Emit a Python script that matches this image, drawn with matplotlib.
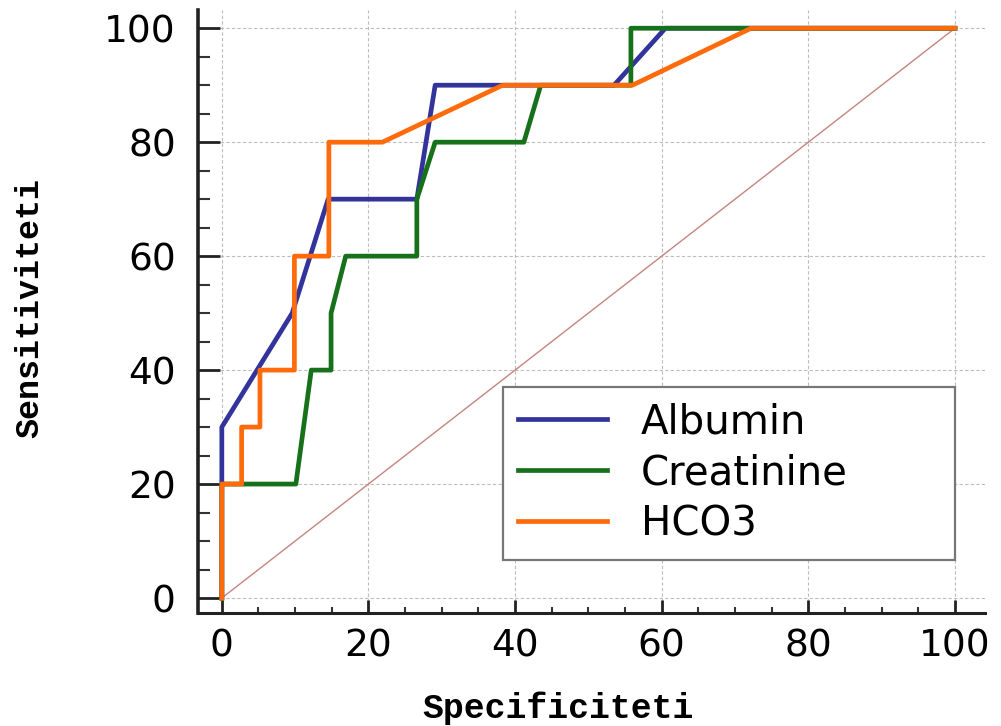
import matplotlib
matplotlib.use("Agg")
import matplotlib.pyplot as plt
from matplotlib.ticker import MultipleLocator

# ROC curves (x: 100 - specificity, y: sensitivity, both in %)
albumin_x = [0, 0, 0, 9.6, 14.5, 26.6, 29.1, 53.5, 60.5, 100]
albumin_y = [0, 20, 30, 50, 70, 70, 90, 90, 100, 100]

creatinine_x = [0, 0, 10.1, 12.2, 14.9, 14.9, 16.9, 26.6, 26.6, 29.1, 41.2, 43.5, 55.8, 55.8, 100]
creatinine_y = [0, 20, 20, 40, 40, 50, 60, 60, 70, 80, 80, 90, 90, 100, 100]

hco3_x = [0, 0, 2.7, 2.7, 5.2, 5.2, 9.9, 9.9, 14.6, 14.6, 21.9, 38.3, 56.0, 72.2, 100]
hco3_y = [0, 20, 20, 30, 30, 40, 40, 60, 60, 80, 80, 90, 90, 100, 100]

ref_x = [0, 100]
ref_y = [0, 100]

fig = plt.figure(figsize=(10.01, 7.26), dpi=100)
ax = fig.add_axes([198 / 1001, 1 - 613 / 726, (985 - 198) / 1001, (613 - 10) / 726])

ax.plot(ref_x, ref_y, color="#c4857f", lw=1.0, zorder=2)
ax.plot(albumin_x, albumin_y, color="#33339c", lw=3.4, label="Albumin", zorder=3)
ax.plot(creatinine_x, creatinine_y, color="#17701a", lw=3.4, label="Creatinine", zorder=4)
ax.plot(hco3_x, hco3_y, color="#ff6a0a", lw=3.4, label="HCO3", zorder=5)

ax.set_xlim(-3.25, 104.1)
ax.set_ylim(-2.63, 103.2)

ax.xaxis.set_major_locator(MultipleLocator(20))
ax.xaxis.set_minor_locator(MultipleLocator(5))
ax.yaxis.set_major_locator(MultipleLocator(20))
ax.yaxis.set_minor_locator(MultipleLocator(5))

for side in ["top", "right"]:
    ax.spines[side].set_visible(False)
ax.spines["left"].set_linewidth(2.6)
ax.spines["bottom"].set_linewidth(2.2)
ax.spines["left"].set_color("#222222")
ax.spines["bottom"].set_color("#222222")

ax.tick_params(axis="x", which="major", direction="in", length=9.5, width=2.0,
               color="#222222", pad=11, labelsize=27)
ax.tick_params(axis="x", which="minor", direction="in", length=4.5, width=1.5, color="#333333")
ax.tick_params(axis="y", which="major", direction="in", length=16, width=2.0,
               color="#222222", pad=16, labelsize=27)
ax.tick_params(axis="y", which="minor", direction="in", length=8.5, width=1.5, color="#333333")

ax.grid(True, which="major", color="#bdbdbd", linestyle=(0, (3, 2)), lw=0.8)
ax.set_axisbelow(True)

ax.set_xlabel("Specificiteti", family="Liberation Mono", weight="bold", fontsize=25)
ax.xaxis.set_label_coords(0.457, -0.13)
ax.set_ylabel("Sensitiviteti", family="Liberation Mono", weight="bold", fontsize=24)
ax.yaxis.set_label_coords(-0.194, 0.505)

leg = ax.legend(loc="upper left", bbox_to_anchor=(38.3, 0, 61.7, 37.0),
                bbox_transform=ax.transData, mode="expand", borderaxespad=0,
                fontsize=29, frameon=True, fancybox=False, framealpha=1,
                edgecolor="#777777", handlelength=2.2, handletextpad=0.85,
                borderpad=0.38, labelspacing=0.27)
leg.get_frame().set_linewidth(1.6)

fig.savefig("out.png", dpi=100)
